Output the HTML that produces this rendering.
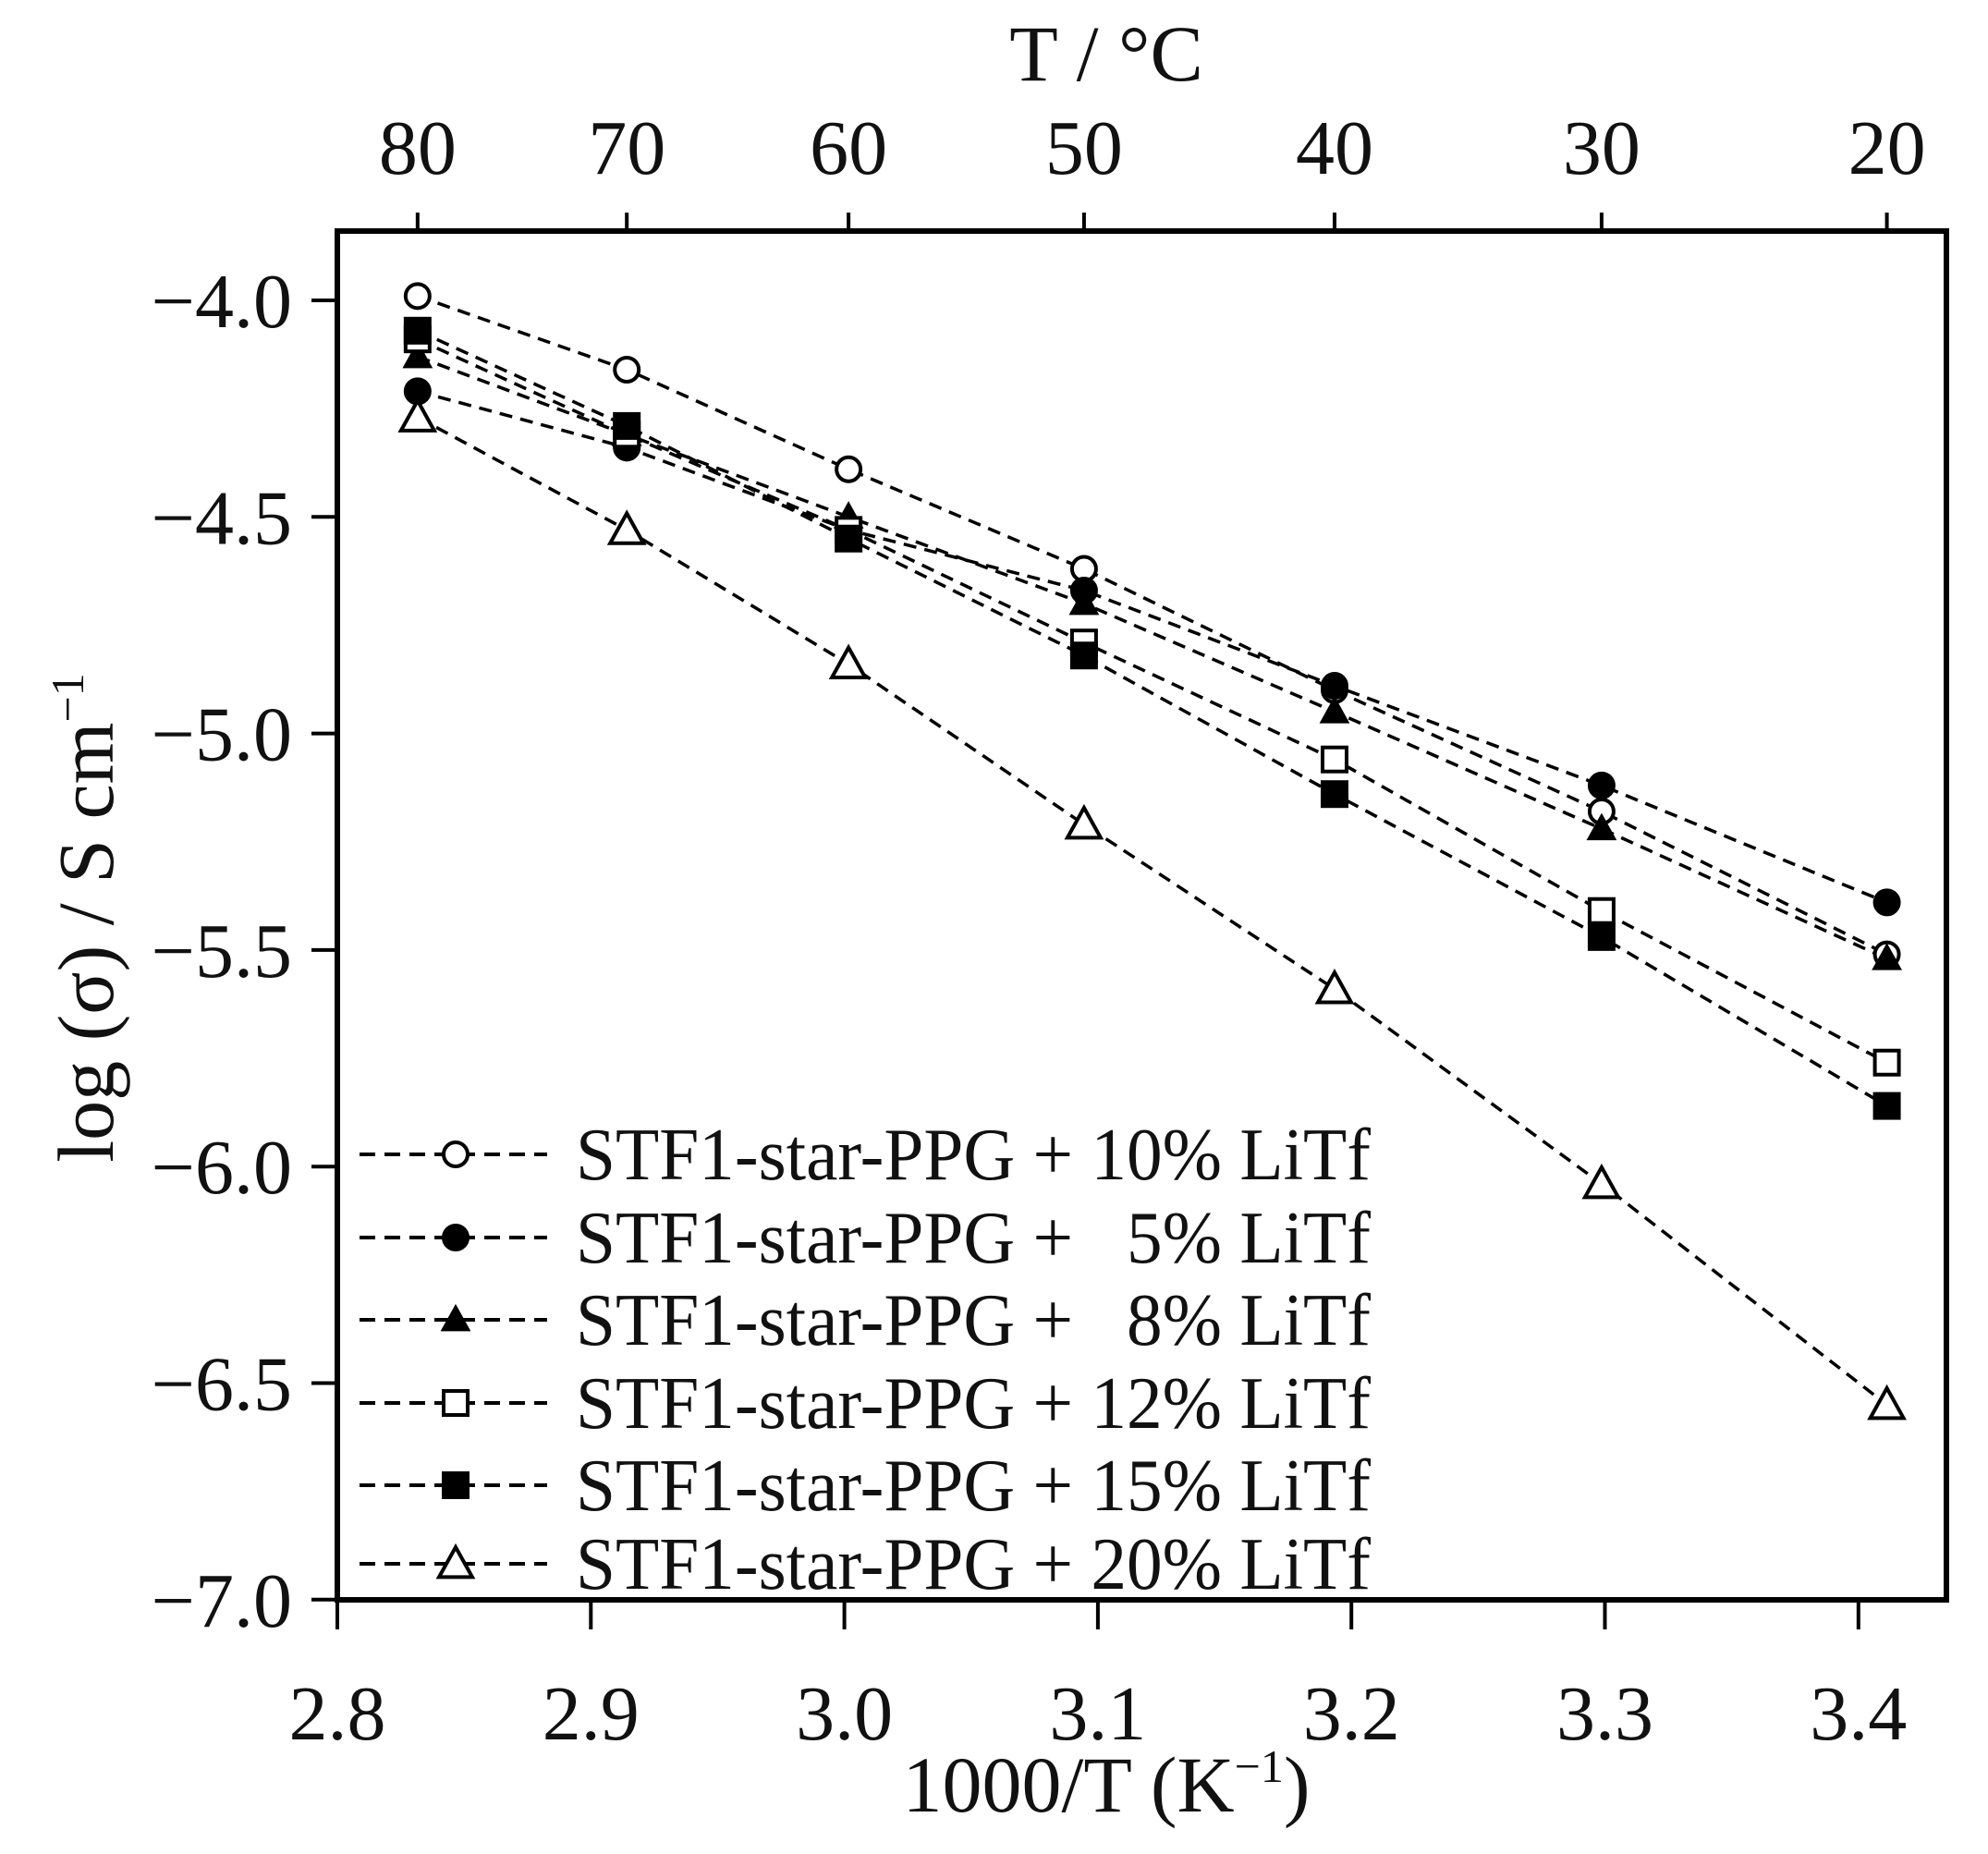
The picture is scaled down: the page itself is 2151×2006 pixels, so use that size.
<!DOCTYPE html>
<html><head><meta charset="utf-8"><style>
html,body{margin:0;padding:0;background:#fff}
svg{display:block}
text{font-family:"Liberation Serif",serif;fill:#111}
</style></head><body>
<svg id="chart" width="2151" height="2006" viewBox="0 0 2151 2006">
<g id="frame"></g>
<g id="lines"></g>
<g id="marks"></g>
<g id="legend"></g>
</svg>
<script>
const tempsC = [80, 70, 60, 50, 40, 30, 20];
const xTicks = [2.8, 2.9, 3.0, 3.1, 3.2, 3.3, 3.4];
const yTicks = [-4.0, -4.5, -5.0, -5.5, -6.0, -6.5, -7.0];
const seriesNames = ["STF1-star-PPG + 10% LiTf","STF1-star-PPG +   5% LiTf","STF1-star-PPG +   8% LiTf","STF1-star-PPG + 12% LiTf","STF1-star-PPG + 15% LiTf","STF1-star-PPG + 20% LiTf"];
const seriesMarkers = ["circle-open","circle-filled","triangle-filled","square-open","square-filled","triangle-open"];
const s10 = [-3.99, -4.16, -4.39, -4.62, -4.90, -5.18, -5.51];
const s5  = [-4.21, -4.34, -4.53, -4.67, -4.89, -5.12, -5.39];
const s8  = [-4.13, -4.31, -4.50, -4.70, -4.95, -5.22, -5.52];
const s12 = [-4.09, -4.31, -4.53, -4.79, -5.06, -5.41, -5.76];
const s15 = [-4.07, -4.29, -4.55, -4.82, -5.14, -5.47, -5.86];
const s20 = [-4.27, -4.53, -4.84, -5.21, -5.59, -6.04, -6.55];
const allSeries = [s10, s5, s8, s12, s15, s20];

const NS = "http://www.w3.org/2000/svg";
const L = 365, R = 2106, T = 250, B = 1731;
function xs(v){ return 365 + (v - 2.8) * 2743; }
function ys(v){ return 325 + (-4.0 - v) * 468.6; }
function invT(c){ return 1000 / (c + 273.15); }
function mk(tag, attrs, parent){
  const e = document.createElementNS(NS, tag);
  for (const k in attrs) e.setAttribute(k, attrs[k]);
  parent.appendChild(e); return e;
}
const frame = document.getElementById('frame');
const rect = mk('rect', {x:L, y:T, width:R-L, height:B-T, fill:'none', stroke:'#000', 'stroke-width':6}, frame);



xTicks.forEach(v => {
  const x = xs(v);
  mk('line', {x1:x, y1:B, x2:x, y2:B+32, stroke:'#000', 'stroke-width':4}, frame);
  const t = mk('text', {x:x, y:1882, 'font-size':84, 'text-anchor':'middle'}, frame);
  t.textContent = v.toFixed(1);
  
  
});
yTicks.forEach(v => {
  const y = ys(v);
  mk('line', {x1:L-28, y1:y, x2:L, y2:y, stroke:'#000', 'stroke-width':4}, frame);
  const t = mk('text', {x:316, y:y+29, 'font-size':84, 'text-anchor':'end'}, frame);
  t.textContent = '\u2212' + Math.abs(v).toFixed(1);
  
  
});
tempsC.forEach(c => {
  const x = xs(invT(c));
  mk('line', {x1:x, y1:T-20, x2:x, y2:T, stroke:'#000', 'stroke-width':4}, frame);
  const t = mk('text', {x:x, y:188, 'font-size':84, 'text-anchor':'middle'}, frame);
  t.textContent = String(c);
  
  
});
let t1 = mk('text', {x:1197, y:87, 'font-size':86, 'text-anchor':'middle'}, frame);
t1.textContent = 'T / \u00B0C';


let t2 = mk('text', {x:1197, y:1960, 'font-size':86, 'text-anchor':'middle'}, frame);
t2.innerHTML = '1000/T (K<tspan font-size="50" dy="-32">\u22121</tspan><tspan dy="32">)</tspan>';


let t3 = mk('text', {x:0, y:0, 'font-size':86, 'text-anchor':'middle', transform:'translate(122,993) rotate(-90)'}, frame);
t3.innerHTML = 'log (\u03C3) / S cm<tspan font-size="50" dy="-32">\u22121</tspan>';



function marker(kind, x, y, parent){
  const r = 13; let e;
  const fill = kind.indexOf('filled') >= 0 ? '#000' : '#fff';
  if (kind.startsWith('circle')) e = mk('circle', {cx:x, cy:y, r:r, fill:fill, stroke:'#000', 'stroke-width':4}, parent);
  else if (kind.startsWith('square')) e = mk('rect', {x:x-r, y:y-r, width:2*r, height:2*r, fill:fill, stroke:'#000', 'stroke-width':4}, parent);
  else { const s = kind === 'triangle-open' ? 18 : 13; e = mk('polygon', {points:`${x},${y-s} ${x+s},${y+s*0.8} ${x-s},${y+s*0.8}`, fill:fill, stroke:'#000', 'stroke-width':4}, parent); }
  return e;
}
const lines = document.getElementById('lines'), marks = document.getElementById('marks');
allSeries.forEach((vals, si) => {
  const pts = vals.map((v, i) => xs(invT(tempsC[i])) + ',' + ys(v)).join(' ');
  const pl = mk('polyline', {points:pts, fill:'none', stroke:'#000', 'stroke-width':3.5, 'stroke-dasharray':'14 9'}, lines);
  
  
  vals.forEach((v, i) => {
    const m = marker(seriesMarkers[si], xs(invT(tempsC[i])), ys(v), marks);
    
    
  });
});
const leg = document.getElementById('legend');
const legY = [1249, 1339, 1428, 1518, 1607, 1692];
seriesNames.forEach((n, i) => {
  const y = legY[i];
  mk('line', {x1:389, y1:y, x2:592, y2:y, stroke:'#000', 'stroke-width':4, 'stroke-dasharray':'17 10'}, leg);
  const m = marker(seriesMarkers[i], 493, y, leg);
  
  
  const t = mk('text', {x:623, y:y+27, 'font-size':80, textLength:860, lengthAdjust:'spacingAndGlyphs', style:'white-space:pre'}, leg);
  t.textContent = n;
  
  
});
</script>
</body></html>
